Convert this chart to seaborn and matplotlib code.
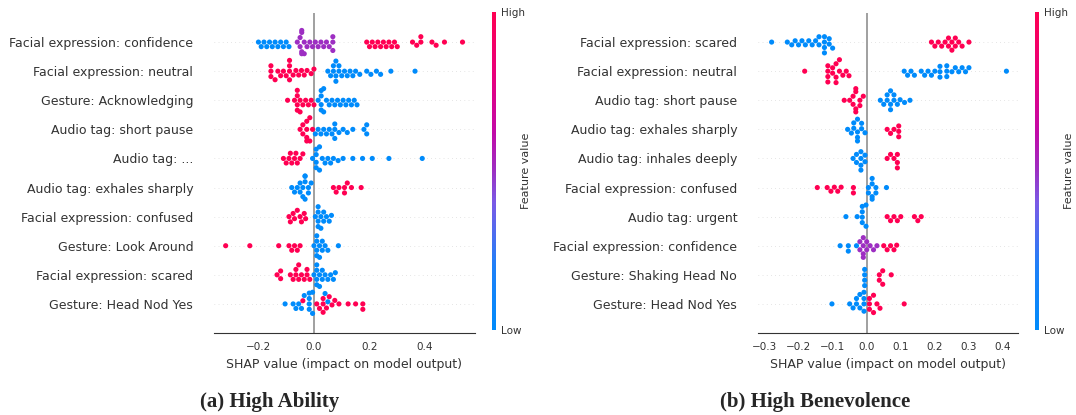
import numpy as np
import pandas as pd
import seaborn as sns
import matplotlib.pyplot as plt
from matplotlib.colors import LinearSegmentedColormap, Normalize
from matplotlib.cm import ScalarMappable

# ---- panel (a) High Ability ----
feat_a = ["Facial expression: confidence", "Facial expression: neutral",
          "Gesture: Acknowledging", "Audio tag: short pause", "Audio tag: ...",
          "Audio tag: exhales sharply", "Facial expression: confused",
          "Gesture: Look Around", "Facial expression: scared", "Gesture: Head Nod Yes"]
# (shap value, number of samples) for low / mid / high feature values
low_a = [
    [(-0.20,1),(-0.19,1),(-0.18,1),(-0.17,1),(-0.16,1),(-0.15,1),(-0.14,1),(-0.13,1),(-0.12,1),(-0.11,1),(-0.10,1),(-0.09,1)],
    [(0.05,1),(0.06,1),(0.07,2),(0.079,3),(0.09,2),(0.10,1),(0.11,1),(0.12,1),(0.13,1),(0.14,1),(0.15,1),(0.165,1),(0.19,1),(0.205,1),(0.225,1),(0.24,1),(0.277,1),(0.364,1)],
    [(0.015,1),(0.026,4),(0.035,2),(0.045,1),(0.055,1),(0.065,1),(0.075,1),(0.085,1),(0.095,1),(0.105,1),(0.115,1),(0.125,1),(0.135,1),(0.145,1),(0.155,1)],
    [(0.005,1),(0.015,1),(0.025,1),(0.035,1),(0.045,1),(0.055,1),(0.065,1),(0.075,3),(0.09,1),(0.105,1),(0.12,1),(0.14,1),(0.18,1),(0.19,2)],
    [(-0.005,1),(0.008,4),(0.02,2),(0.03,1),(0.04,1),(0.05,1),(0.06,1),(0.07,1),(0.087,1),(0.105,1),(0.14,1),(0.175,1),(0.21,1),(0.27,1),(0.39,1)],
    [(-0.08,1),(-0.07,1),(-0.06,1),(-0.05,2),(-0.04,2),(-0.032,4),(-0.02,2),(-0.01,1)],
    [(0.005,1),(0.015,4),(0.025,2),(0.035,2),(0.045,1),(0.055,1),(0.063,1)],
    [(0.0,1),(0.01,4),(0.02,2),(0.03,2),(0.04,1),(0.05,1),(0.088,1)],
    [(0.0,1),(0.01,4),(0.02,2),(0.03,2),(0.04,1),(0.05,1),(0.06,1),(0.07,1),(0.077,1)],
    [(-0.104,1),(-0.075,1),(-0.065,1),(-0.055,1),(-0.045,1),(-0.035,1),(-0.017,4),(-0.005,2),(0.04,1),(0.05,1)],
]
mid_a = [
    [(-0.06,1),(-0.05,2),(-0.044,4),(-0.035,2),(-0.025,1),(-0.015,1),(-0.005,1),(0.005,1),(0.015,1),(0.025,1),(0.035,1),(0.045,1),(0.055,1),(0.068,3)],
    [], [], [], [], [], [], [], [], [],
]
high_a = [
    [(0.19,1),(0.20,1),(0.21,1),(0.22,1),(0.23,1),(0.24,1),(0.25,1),(0.26,1),(0.27,1),(0.28,1),(0.29,1),(0.30,1),(0.355,1),(0.37,1),(0.385,2),(0.425,1),(0.44,1),(0.47,1),(0.535,1)],
    [(-0.155,3),(-0.14,1),(-0.13,1),(-0.12,1),(-0.11,1),(-0.10,1),(-0.088,4),(-0.075,1),(-0.065,1),(-0.055,1),(-0.045,1),(-0.035,1),(-0.025,1),(-0.01,1),(0.0,1)],
    [(-0.095,1),(-0.07,1),(-0.06,4),(-0.05,2),(-0.04,1),(-0.03,1),(-0.02,1),(-0.01,1),(0.0,1)],
    [(-0.05,1),(-0.04,2),(-0.026,4),(-0.015,2),(-0.005,1)],
    [(-0.11,1),(-0.10,1),(-0.09,1),(-0.085,1),(-0.08,1),(-0.07,1),(-0.065,1),(-0.06,1),(-0.05,1),(-0.04,1)],
    [(0.07,1),(0.08,1),(0.09,1),(0.11,2),(0.12,1),(0.135,1),(0.17,1)],
    [(-0.09,1),(-0.085,1),(-0.075,1),(-0.07,1),(-0.06,1),(-0.05,1),(-0.045,1),(-0.035,1),(-0.03,1)],
    [(-0.318,1),(-0.231,1),(-0.127,1),(-0.09,1),(-0.08,1),(-0.07,1),(-0.06,1),(-0.05,1)],
    [(-0.133,1),(-0.12,2),(-0.085,1),(-0.075,1),(-0.065,2),(-0.055,2),(-0.045,1),(-0.035,1),(-0.025,2),(-0.015,1)],
    [(-0.04,1),(0.01,1),(0.02,1),(0.033,3),(0.045,1),(0.055,1),(0.065,1),(0.075,1),(0.09,1),(0.123,1),(0.15,1),(0.176,2)],
]

# ---- panel (b) High Benevolence ----
feat_b = ["Facial expression: scared", "Facial expression: neutral",
          "Audio tag: short pause", "Audio tag: exhales sharply", "Audio tag: inhales deeply",
          "Facial expression: confused", "Audio tag: urgent", "Facial expression: confidence",
          "Gesture: Shaking Head No", "Gesture: Head Nod Yes"]
low_b = [
    [(-0.279,1),(-0.233,1),(-0.22,1),(-0.21,1),(-0.20,1),(-0.19,1),(-0.18,1),(-0.17,1),(-0.16,1),(-0.15,1),(-0.14,2),(-0.124,4),(-0.11,2),(-0.10,1)],
    [(0.11,1),(0.12,1),(0.13,1),(0.14,1),(0.16,1),(0.17,1),(0.18,1),(0.19,1),(0.20,1),(0.215,3),(0.235,3),(0.25,1),(0.26,1),(0.27,1),(0.28,1),(0.29,1),(0.30,1),(0.41,1)],
    [(0.04,1),(0.05,1),(0.06,2),(0.07,3),(0.08,2),(0.09,1),(0.098,1),(0.111,1),(0.127,1)],
    [(-0.056,1),(-0.045,1),(-0.038,2),(-0.027,4),(-0.015,2),(-0.005,1)],
    [(-0.04,1),(-0.03,2),(-0.017,4),(-0.005,2)],
    [(0.005,2),(0.016,4),(0.027,2),(0.058,1)],
    [(-0.061,1),(-0.028,1),(-0.013,4),(-0.002,2)],
    [(-0.078,1),(-0.054,2),(-0.03,1)],
    [(-0.006,4)],
    [(-0.102,1),(-0.05,1),(-0.04,1),(-0.03,2),(-0.02,2),(-0.008,4)],
]
mid_b = [[], [], [], [], [], [], [],
         [(-0.02,2),(-0.01,4),(0.0,2),(0.01,1),(0.02,1),(0.03,1)],
         [], []]
high_b = [
    [(0.19,1),(0.20,1),(0.21,1),(0.22,1),(0.23,1),(0.24,2),(0.25,2),(0.26,2),(0.27,1),(0.28,1),(0.30,1)],
    [(-0.182,1),(-0.114,4),(-0.10,2),(-0.09,3),(-0.08,2),(-0.07,1),(-0.06,1),(-0.052,1)],
    [(-0.066,1),(-0.05,1),(-0.04,2),(-0.032,4),(-0.02,2),(-0.01,1)],
    [(0.06,1),(0.07,1),(0.08,1),(0.094,3)],
    [(0.06,1),(0.07,1),(0.08,1),(0.09,3)],
    [(-0.145,1),(-0.116,1),(-0.105,1),(-0.095,1),(-0.085,1),(-0.075,1),(-0.039,2)],
    [(0.06,1),(0.07,1),(0.08,1),(0.09,1),(0.10,1),(0.14,1),(0.15,1),(0.16,1)],
    [(0.05,1),(0.06,1),(0.07,1),(0.08,1),(0.088,1)],
    [(0.037,2),(0.047,2),(0.072,1)],
    [(0.008,3),(0.02,2),(0.03,1),(0.039,1),(0.11,1)],
]

shap_cmap = LinearSegmentedColormap.from_list("red_blue", [
    (0.0, "#008bfb"), (0.2, "#1f80f8"), (0.4, "#7a5ae6"), (0.5, "#9c2fc2"),
    (0.62, "#c10aa8"), (0.8, "#e8007c"), (1.0, "#ff0052")])
levels = [0.0, 0.5, 1.0]


def to_frame(feats, low, mid, high):
    rows = []
    for i, f in enumerate(feats):
        for fv, groups in zip(levels, (low, mid, high)):
            for v, n in groups[i]:
                rows += [(f, v, fv)] * n
    return pd.DataFrame(rows, columns=["feature", "shap", "fval"])


def draw(ax, cax, feats, df, xlim, xticks):
    for y in range(len(feats)):
        ax.axhline(y, color="#cccccc", lw=0.5, dashes=(1, 5), zorder=-1)
    ax.axvline(0, color="#999999", lw=1.3, zorder=-1)
    pal = {fv: shap_cmap(fv) for fv in levels}
    sns.swarmplot(data=df, x="shap", y="feature", hue="fval", order=feats,
                  palette=pal, size=3.7, linewidth=0, orient="h",
                  legend=False, ax=ax, zorder=3)
    ax.set_xlim(*xlim)
    ax.set_ylim(len(feats), -1)
    ax.set_xticks(xticks)
    ax.set_xticklabels([f"{t:.1f}".replace("-", "\u2212") for t in xticks])
    for s in ("left", "top", "right"):
        ax.spines[s].set_visible(False)
    ax.spines["bottom"].set_color("#333333")
    ax.tick_params(axis="y", length=0, pad=15, labelsize=9, labelcolor="#333333")
    ax.tick_params(axis="x", labelsize=7.5, labelcolor="#333333", color="#333333", length=3)
    ax.set_ylabel("")
    ax.set_xlabel("SHAP value (impact on model output)", fontsize=9, color="#333333")
    ax.grid(False)

    sm = ScalarMappable(norm=Normalize(0, 1), cmap=shap_cmap)
    cb = plt.colorbar(sm, cax=cax, ticks=[0, 1])
    cb.set_ticklabels(["Low", "High"])
    cb.ax.tick_params(length=0, labelsize=7.5, labelcolor="#333333")
    cb.set_label("Feature value", size=8, labelpad=-3, color="#333333")
    cb.outline.set_visible(False)


sns.set_style("white")
fig = plt.figure(figsize=(10.76, 4.15), dpi=100)
W, H = 1076, 415
ax_a = fig.add_axes([214 / W, 1 - 333 / H, (475 - 214) / W, 320 / H])
cax_a = fig.add_axes([492 / W, 1 - 330 / H, 4 / W, 318 / H])
ax_b = fig.add_axes([758 / W, 1 - 333 / H, (1018 - 758) / W, 320 / H])
cax_b = fig.add_axes([1035 / W, 1 - 330 / H, 4 / W, 318 / H])

draw(ax_a, cax_a, feat_a, to_frame(feat_a, low_a, mid_a, high_a),
     (-0.36, 0.58), [-0.2, 0.0, 0.2, 0.4])
draw(ax_b, cax_b, feat_b, to_frame(feat_b, low_b, mid_b, high_b),
     (-0.319, 0.444), [-0.3, -0.2, -0.1, 0.0, 0.1, 0.2, 0.3, 0.4])

fig.text(270 / W, 1 - 402 / H, "(a) High Ability", ha="center", va="center",
         fontsize=15, fontweight="bold", family="Liberation Serif")
fig.text(815 / W, 1 - 402 / H, "(b) High Benevolence", ha="center", va="center",
         fontsize=15, fontweight="bold", family="Liberation Serif")

fig.savefig("out.png", dpi=100)
